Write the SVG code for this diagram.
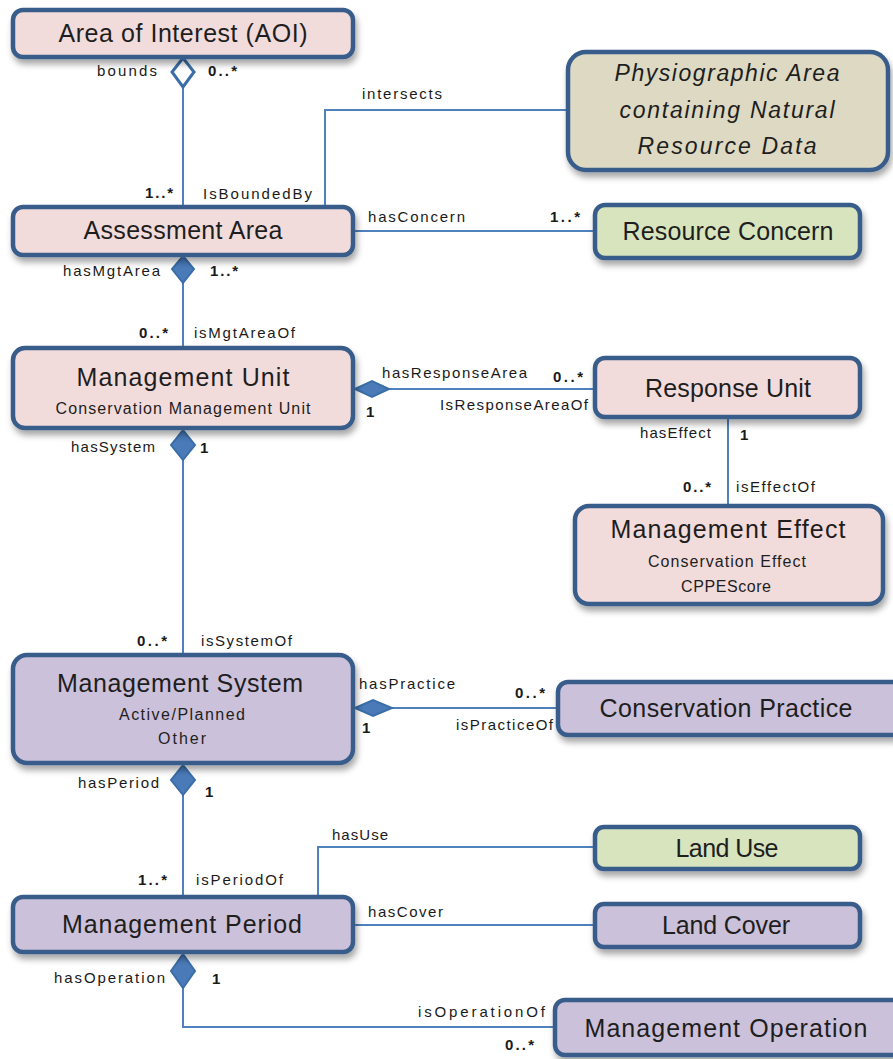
<svg xmlns="http://www.w3.org/2000/svg" width="893" height="1059" viewBox="0 0 893 1059">
<defs>
<filter id="sh" x="-10%" y="-20%" width="125%" height="160%">
<feDropShadow dx="2" dy="5" stdDeviation="3" flood-color="#000" flood-opacity="0.35"/>
</filter>
<style>
.box{stroke:#385d8a;stroke-width:4.5;filter:url(#sh)}
.pink{fill:#f2dcdb}.purple{fill:#ccc1da}.green{fill:#d7e4bd}.tan{fill:#ddd9c3}
.t{font-family:"Liberation Sans",Arial,sans-serif;font-size:25px;fill:#1e1e1e;text-anchor:middle}
.s{font-family:"Liberation Sans",Arial,sans-serif;font-size:16px;fill:#1e1e1e;text-anchor:middle}
.i{font-family:"Liberation Sans",Arial,sans-serif;font-size:23px;font-style:italic;fill:#1e1e1e;text-anchor:middle}
.l{font-family:"Liberation Sans",Arial,sans-serif;font-size:15px;fill:#1a1a1a}
.m{font-family:"Liberation Sans",Arial,sans-serif;font-size:15px;font-weight:bold;fill:#1a1a1a}
.c{fill:none;stroke:#4f81bd;stroke-width:2}
.d{fill:#4a7ab8;stroke:#3a6ea8;stroke-width:2}
.h{fill:#fff;stroke:#3a6ea8;stroke-width:3}
</style>
</defs>
<rect width="893" height="1059" fill="#fff"/>

<g id="connectors">
<line class="c" x1="183" y1="87" x2="183" y2="207"/>
<polygon class="h" points="183,58 194,72 183,87 172,72"/>
<polyline class="c" points="325,207 325,110 568,110"/>
<line class="c" x1="353" y1="231" x2="595" y2="231"/>
<line class="c" x1="183" y1="283" x2="183" y2="348"/>
<polygon class="d" points="183,256 194,269 183,283 172,269"/>
<line class="c" x1="389" y1="389" x2="595" y2="389"/>
<polygon class="d" points="355,389 372,381 389,389 372,397"/>
<line class="c" x1="183" y1="460" x2="183" y2="655"/>
<polygon class="d" points="183,430 195,445 183,460 171,445"/>
<line class="c" x1="728" y1="417" x2="728" y2="506"/>
<line class="c" x1="392" y1="708" x2="558" y2="708"/>
<polygon class="d" points="355,708 373,700 392,708 373,716"/>
<line class="c" x1="183" y1="795" x2="183" y2="897"/>
<polygon class="d" points="183,765 195,780 183,795 171,780"/>
<polyline class="c" points="318,897 318,847 595,847"/>
<line class="c" x1="353" y1="925" x2="595" y2="925"/>
<polyline class="c" points="183,988 183,1027 555,1027"/>
<polygon class="d" points="183,954 195,971 183,988 171,971"/>

<text class="l" x="97" y="76" textLength="60">bounds</text>
<text class="m" x="208" y="76" textLength="29">0..*</text>
<text class="l" x="362" y="99" textLength="80">intersects</text>
<text class="m" x="145" y="198" textLength="28">1..*</text>
<text class="l" x="203" y="199" textLength="109">IsBoundedBy</text>
<text class="l" x="368" y="222" textLength="97">hasConcern</text>
<text class="m" x="550" y="222" textLength="30">1..*</text>
<text class="l" x="63" y="276" textLength="97">hasMgtArea</text>
<text class="m" x="210" y="276" textLength="28">1..*</text>
<text class="m" x="139" y="338" textLength="29">0..*</text>
<text class="l" x="194" y="338" textLength="101">isMgtAreaOf</text>
<text class="l" x="382" y="378" textLength="145">hasResponseArea</text>
<text class="m" x="553" y="382" textLength="30">0..*</text>
<text class="l" x="440" y="410" textLength="148">IsResponseAreaOf</text>
<text class="m" x="366" y="417">1</text>
<text class="l" x="71" y="452" textLength="84">hasSystem</text>
<text class="m" x="200" y="453">1</text>
<text class="l" x="640" y="438" textLength="71">hasEffect</text>
<text class="m" x="740" y="440">1</text>
<text class="m" x="683" y="492" textLength="28">0..*</text>
<text class="l" x="736" y="492" textLength="79">isEffectOf</text>
<text class="m" x="137" y="646" textLength="30">0..*</text>
<text class="l" x="201" y="646" textLength="91">isSystemOf</text>
<text class="l" x="359" y="689" textLength="96">hasPractice</text>
<text class="m" x="515" y="698" textLength="30">0..*</text>
<text class="l" x="456" y="730" textLength="97">isPracticeOf</text>
<text class="m" x="362" y="733">1</text>
<text class="l" x="78" y="788" textLength="81">hasPeriod</text>
<text class="m" x="205" y="797">1</text>
<text class="l" x="332" y="840" textLength="56">hasUse</text>
<text class="m" x="138" y="885" textLength="29">1..*</text>
<text class="l" x="196" y="885" textLength="87">isPeriodOf</text>
<text class="l" x="368" y="917" textLength="75">hasCover</text>
<text class="l" x="54" y="983" textLength="111">hasOperation</text>
<text class="m" x="212" y="984">1</text>
<text class="l" x="418" y="1017" textLength="127">isOperationOf</text>
<text class="m" x="505" y="1050" textLength="29">0..*</text>
</g>

<g id="aoi">
<rect class="box pink" x="13" y="10" width="340" height="47" rx="10"/>
<text class="t" x="183" y="42" textLength="249">Area of Interest (AOI)</text>
</g>
<g id="physiographic">
<rect class="box tan" x="568" y="52" width="320" height="118" rx="18"/>
<text class="i" x="727" y="81" textLength="225">Physiographic Area</text>
<text class="i" x="727" y="118" textLength="215">containing Natural</text>
<text class="i" x="727" y="154" textLength="179">Resource Data</text>
</g>
<g id="assessment-area">
<rect class="box pink" x="13" y="207" width="340" height="48" rx="10"/>
<text class="t" x="183" y="239" textLength="199">Assessment Area</text>
</g>
<g id="resource-concern">
<rect class="box green" x="595" y="205" width="265" height="53" rx="10"/>
<text class="t" x="728" y="240" textLength="211">Resource Concern</text>
</g>
<g id="management-unit">
<rect class="box pink" x="13" y="348" width="340" height="80" rx="12"/>
<text class="t" x="183" y="386" textLength="213">Management Unit</text>
<text class="s" x="183" y="414" textLength="255">Conservation Management Unit</text>
</g>
<g id="response-unit">
<rect class="box pink" x="595" y="358" width="265" height="59" rx="10"/>
<text class="t" x="728" y="397" textLength="166">Response Unit</text>
</g>
<g id="management-effect">
<rect class="box pink" x="575" y="506" width="308" height="98" rx="14"/>
<text class="t" x="728" y="538" textLength="235">Management Effect</text>
<text class="s" x="727" y="567" textLength="158">Conservation Effect</text>
<text class="s" x="726" y="592" textLength="90">CPPEScore</text>
</g>
<g id="management-system">
<rect class="box purple" x="13" y="655" width="340" height="108" rx="14"/>
<text class="t" x="180" y="692" textLength="246">Management System</text>
<text class="s" x="182" y="720" textLength="126">Active/Planned</text>
<text class="s" x="182" y="744" textLength="48">Other</text>
</g>
<g id="conservation-practice">
<rect class="box purple" x="558" y="682" width="345" height="53" rx="10"/>
<text class="t" x="726" y="717" textLength="253">Conservation Practice</text>
</g>
<g id="land-use">
<rect class="box green" x="595" y="827" width="265" height="42" rx="9"/>
<text class="t" x="727" y="857" textLength="103">Land Use</text>
</g>
<g id="management-period">
<rect class="box purple" x="13" y="897" width="340" height="55" rx="10"/>
<text class="t" x="182" y="933" textLength="240">Management Period</text>
</g>
<g id="land-cover">
<rect class="box purple" x="595" y="904" width="265" height="43" rx="9"/>
<text class="t" x="726" y="934" textLength="128">Land Cover</text>
</g>
<g id="management-operation">
<rect class="box purple" x="555" y="1000" width="348" height="55" rx="10"/>
<text class="t" x="726" y="1037" textLength="283">Management Operation</text>
</g>
</svg>
